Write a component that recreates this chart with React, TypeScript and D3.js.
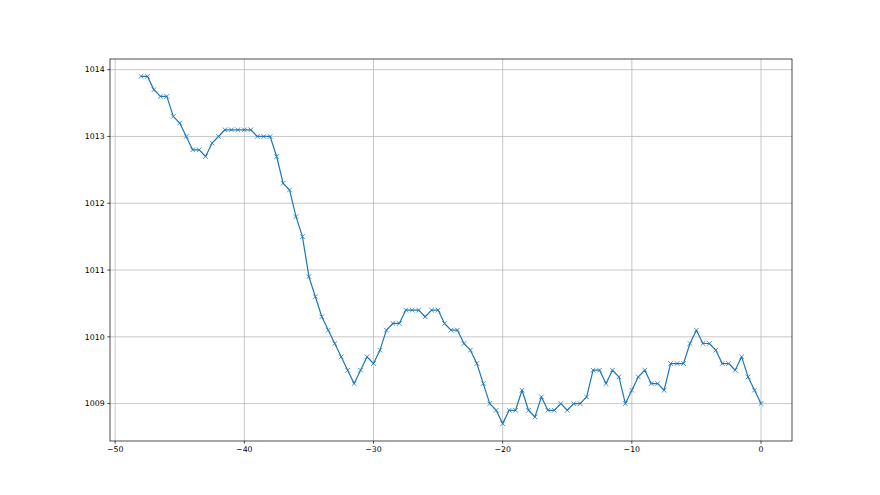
import React from "react";
import * as d3 from "d3";

const hours: number[] = [
  -48, -47.5, -47, -46.5, -46, -45.5, -45, -44.5, -44, -43.5, -43, -42.5, -42, -41.5, -41, -40.5,
  -40, -39.5, -39, -38.5, -38, -37.5, -37, -36.5, -36, -35.5, -35, -34.5, -34, -33.5, -33, -32.5,
  -32, -31.5, -31, -30.5, -30, -29.5, -29, -28.5, -28, -27.5, -27, -26.5, -26, -25.5, -25, -24.5,
  -24, -23.5, -23, -22.5, -22, -21.5, -21, -20.5, -20, -19.5, -19, -18.5, -18, -17.5, -17, -16.5,
  -16, -15.5, -15, -14.5, -14, -13.5, -13, -12.5, -12, -11.5, -11, -10.5, -10, -9.5, -9, -8.5,
  -8, -7.5, -7, -6.5, -6, -5.5, -5, -4.5, -4, -3.5, -3, -2.5, -2, -1.5, -1, -0.5, 0,
];

const pressure: number[] = [
  1013.9, 1013.9, 1013.7, 1013.6, 1013.6, 1013.3, 1013.2, 1013.0, 1012.8, 1012.8, 1012.7, 1012.9,
  1013.0, 1013.1, 1013.1, 1013.1, 1013.1, 1013.1, 1013.0, 1013.0, 1013.0, 1012.7, 1012.3, 1012.2,
  1011.8, 1011.5, 1010.9, 1010.6, 1010.3, 1010.1, 1009.9, 1009.7, 1009.5, 1009.3, 1009.5, 1009.7,
  1009.6, 1009.8, 1010.1, 1010.2, 1010.2, 1010.4, 1010.4, 1010.4, 1010.3, 1010.4, 1010.4, 1010.2,
  1010.1, 1010.1, 1009.9, 1009.8, 1009.6, 1009.3, 1009.0, 1008.9, 1008.7, 1008.9, 1008.9, 1009.2,
  1008.9, 1008.8, 1009.1, 1008.9, 1008.9, 1009.0, 1008.9, 1009.0, 1009.0, 1009.1, 1009.5, 1009.5,
  1009.3, 1009.5, 1009.4, 1009.0, 1009.2, 1009.4, 1009.5, 1009.3, 1009.3, 1009.2, 1009.6, 1009.6,
  1009.6, 1009.9, 1010.1, 1009.9, 1009.9, 1009.8, 1009.6, 1009.6, 1009.5, 1009.7, 1009.4, 1009.2,
  1009.0,
];

const xTicks: number[] = [-50, -40, -30, -20, -10, 0];
const yTicks: number[] = [1009, 1010, 1011, 1012, 1013, 1014];

const W = 880;
const H = 495;
const L = 110;
const R = 792;
const T = 59;
const B = 441;

export default function App() {
  const xMin = d3.min(hours)!;
  const xMax = d3.max(hours)!;
  const yMin = d3.min(pressure)!;
  const yMax = d3.max(pressure)!;
  const xm = (xMax - xMin) * 0.05;
  const ym = (yMax - yMin) * 0.05;
  const x = d3.scaleLinear().domain([xMin - xm, xMax + xm]).range([L, R]);
  const y = d3.scaleLinear().domain([yMin - ym, yMax + ym]).range([B, T]);
  const pts = hours.map((h, i) => [h, pressure[i]] as [number, number]);
  const line = d3
    .line<[number, number]>()
    .x((d) => x(d[0]))
    .y((d) => y(d[1]));
  const fmt = (v: number) => (v < 0 ? "\u2212" + Math.abs(v) : String(v));
  const ms = 2.3;
  const tl = 2.7;
  const fs = 7.8;
  return (
    <svg
      width={W}
      height={H}
      style={{ position: "absolute", left: 0, top: 0, background: "#fff" }}
      fontFamily="DejaVu Sans"
    >
      <rect x={0} y={0} width={W} height={H} fill="#fff" />
      {xTicks.map((t) => (
        <line key={"gx" + t} x1={x(t)} x2={x(t)} y1={T} y2={B} stroke="#b0b0b0" strokeWidth={0.7} />
      ))}
      {yTicks.map((t) => (
        <line key={"gy" + t} x1={L} x2={R} y1={y(t)} y2={y(t)} stroke="#b0b0b0" strokeWidth={0.7} />
      ))}
      <path d={line(pts)!} fill="none" stroke="#1f77b4" strokeWidth={1.2} strokeLinejoin="round" />
      {pts.map((p, i) => (
        <path
          key={"m" + i}
          d={`M${x(p[0]) - ms},${y(p[1]) - ms}L${x(p[0]) + ms},${y(p[1]) + ms}M${x(p[0]) - ms},${y(p[1]) + ms}L${x(p[0]) + ms},${y(p[1]) - ms}`}
          stroke="#1f77b4"
          strokeWidth={0.8}
          fill="none"
        />
      ))}
      <rect x={L} y={T} width={R - L} height={B - T} fill="none" stroke="#000" strokeWidth={0.7} />
      {xTicks.map((t) => (
        <g key={"tx" + t}>
          <line x1={x(t)} x2={x(t)} y1={B} y2={B + tl} stroke="#000" strokeWidth={0.7} />
          <text x={x(t)} y={B + tl * 2 + 5.7} fontSize={fs} textAnchor="middle" fill="#000">
            {fmt(t)}
          </text>
        </g>
      ))}
      {yTicks.map((t) => (
        <g key={"ty" + t}>
          <line x1={L - tl} x2={L} y1={y(t)} y2={y(t)} stroke="#000" strokeWidth={0.7} />
          <text x={L - tl * 2} y={y(t)} dy="0.36em" fontSize={fs} textAnchor="end" fill="#000">
            {t}
          </text>
        </g>
      ))}
    </svg>
  );
}
